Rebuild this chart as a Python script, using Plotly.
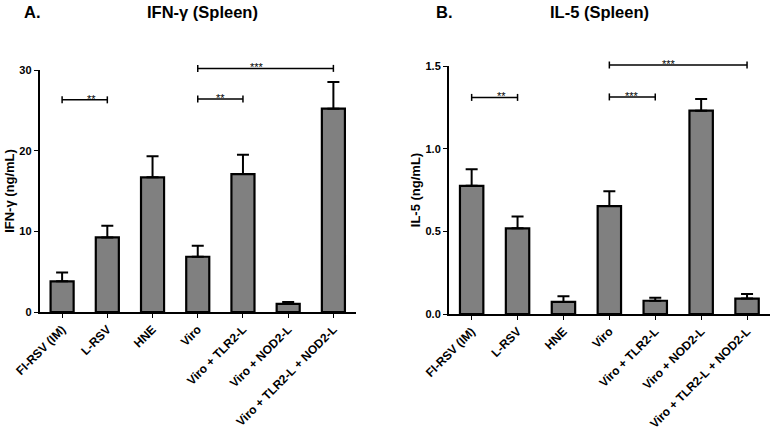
import plotly.graph_objects as go

# ---------------------------------------------------------------
# Данные
# ---------------------------------------------------------------
groups = ["FI-RSV (IM)", "L-RSV", "HNE", "Viro", "Viro + TLR2-L",
          "Viro + NOD2-L", "Viro + TLR2-L + NOD2-L"]

ifn_mean = [3.8, 9.25, 16.7, 6.85, 17.1, 1.0, 25.2]
ifn_sem = [1.1, 1.45, 2.6, 1.35, 2.4, 0.25, 3.3]

il5_mean = [0.775, 0.518, 0.073, 0.653, 0.08, 1.23, 0.093]
il5_sem = [0.10, 0.071, 0.034, 0.089, 0.019, 0.07, 0.028]

# (от, до, высота, звёзды)
ifn_sig = [(0, 1, 26.3, "**"), (3, 4, 26.4, "**"), (3, 6, 30.2, "***")]
il5_sig = [(0, 1, 1.31, "**"), (3, 4, 1.313, "***"), (3, 6, 1.506, "***")]

ifn_ticks = [0, 10, 20, 30]
il5_ticks = [0.0, 0.5, 1.0, 1.5]

FONT = "Arial, Liberation Sans, sans-serif"
W, H = 776, 431


def px(x):
    return x / W


def py(y):
    return 1 - y / H


fig = go.Figure()


def add_panel(fig, n, means, sems, sig, ticks, ytitle, xdom, ydom):
    xa = "x" if n == 1 else "x%d" % n
    ya = "y" if n == 1 else "y%d" % n
    fig.add_trace(go.Bar(
        x=groups, y=means, xaxis=xa, yaxis=ya, width=0.51,
        marker=dict(color="#808080", line=dict(color="black", width=2.2)),
        error_y=dict(type="data", array=sems, arrayminus=[0] * len(sems),
                     symmetric=False, color="black", thickness=2, width=6),
        showlegend=False,
    ))
    ax = dict(domain=xdom, anchor=ya, showline=True, linecolor="black", linewidth=1.5,
              ticks="outside", ticklen=4, tickcolor="black", tickangle=-45,
              range=[-0.5, 6.5], showgrid=False, automargin=False,
              tickfont=dict(family=FONT, size=12, color="black", weight="bold"))
    ay = dict(domain=ydom, anchor=xa, showline=True, linecolor="black", linewidth=1.5,
              ticks="outside", ticklen=4, tickcolor="black", tickvals=ticks,
              range=[0, ticks[-1]], showgrid=False, zeroline=False, automargin=False,
              tickformat=".1f" if ticks[-1] < 5 else "d",
              tickfont=dict(family=FONT, size=11, color="black", weight="bold"),
              title=dict(text=ytitle, standoff=2,
                         font=dict(family=FONT, size=13, color="black", weight="bold")))
    fig.layout["xaxis" if n == 1 else "xaxis%d" % n] = ax
    fig.layout["yaxis" if n == 1 else "yaxis%d" % n] = ay

    # скобки значимости
    ymax = ticks[-1]
    hpx = (ydom[1] - ydom[0]) * H
    cap = 3.5 / hpx
    xr = xa + " domain"
    yr = ya + " domain"
    for i, j, lev, stars in sig:
        x0 = (i + 0.5) / 7
        x1 = (j + 0.5) / 7
        yl = lev / ymax
        fig.add_shape(type="line", xref=xr, yref=yr, x0=x0, x1=x1, y0=yl, y1=yl,
                      line=dict(color="black", width=1.5))
        for xx in (x0, x1):
            fig.add_shape(type="line", xref=xr, yref=yr, x0=xx, x1=xx,
                          y0=yl - cap, y1=yl + cap, line=dict(color="black", width=1.5))
        fig.add_annotation(xref=xr, yref=yr, x=(x0 + x1) / 2, y=yl, text=stars,
                           showarrow=False, yanchor="middle", yshift=1,
                           font=dict(family=FONT, size=11, color="black"))


add_panel(fig, 1, ifn_mean, ifn_sem, ifn_sig, ifn_ticks, "IFN-γ (ng/mL)",
          [px(39.5), px(356)], [py(312), py(70)])
add_panel(fig, 2, il5_mean, il5_sem, il5_sig, il5_ticks, "IL-5 (ng/mL)",
          [px(448.7), px(770)], [py(314), py(66)])

# заголовки
tfont = dict(family=FONT, size=16.5, color="black", weight="bold")
for x, txt in [(32, "A."), (202, "IFN-γ (Spleen)"), (444, "B."), (599, "IL-5 (Spleen)")]:
    fig.add_annotation(xref="paper", yref="paper", x=px(x), y=py(12),
                       text=txt, showarrow=False, xanchor="center", yanchor="middle",
                       font=tfont)

fig.update_layout(width=W, height=H, margin=dict(l=0, r=0, t=0, b=0),
                  plot_bgcolor="white", paper_bgcolor="white",
                  font=dict(family=FONT, color="black"))

# убираем стандартный отступ body, чтобы фигура легла в окно целиком
fig.write_html("out.html", config={"displayModeBar": False},
               post_script="document.body.style.margin='0';")
